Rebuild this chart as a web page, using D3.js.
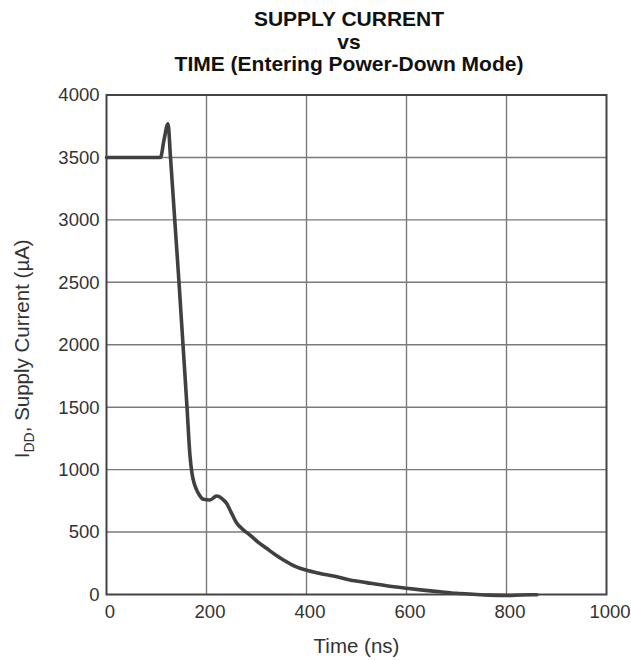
<!DOCTYPE html>
<html><head><meta charset="utf-8">
<script src="https://cdn.jsdelivr.net/npm/d3@7/dist/d3.min.js"></script>
<style>body{margin:0;background:#fff}</style>
</head><body>
<script>
const timeNs = [0, 60, 108, 115, 123, 128, 136.5, 145, 153, 161, 167, 171, 175, 180, 186, 194, 207, 220, 234, 240, 247, 260, 273, 287, 303, 320, 337, 354, 370, 387, 404, 420, 437, 454, 487, 520, 560, 600, 633, 667, 700, 733, 766, 800, 830, 861];
const currentUA = [3500, 3500, 3500, 3640, 3770, 3500, 3000, 2500, 2000, 1500, 1110, 970, 895, 840, 795, 762, 757, 789, 757, 730, 677, 575, 520, 476, 420, 370, 320, 276, 240, 210, 190, 175, 160, 148, 116, 95, 70, 50, 35, 22, 10, 2, -5, -8, -4, -2];
const xTicks = [0, 200, 400, 600, 800, 1000];
const yTicks = [0, 500, 1000, 1500, 2000, 2500, 3000, 3500, 4000];
const titleLines = ["SUPPLY CURRENT", "vs", "TIME (Entering Power-Down Mode)"];

const W = 631, H = 660;
const m = {l: 106.5, r: 606.5, t: 95, b: 594.5};
const svg = d3.select("body").append("svg").attr("width", W).attr("height", H);
const x = d3.scaleLinear().domain([0, 1000]).range([m.l, m.r]);
const y = d3.scaleLinear().domain([0, 4000]).range([m.b, m.t]);
const font = "'Liberation Sans', Arial, Helvetica, sans-serif";

// grid
svg.append("g").selectAll("line").data(xTicks.slice(1, -1)).join("line")
  .attr("x1", d => x(d)).attr("x2", d => x(d)).attr("y1", m.t).attr("y2", m.b)
  .attr("stroke", "#7a7a7a").attr("stroke-width", 1.4);
svg.append("g").selectAll("line").data(yTicks.slice(1, -1)).join("line")
  .attr("x1", m.l).attr("x2", m.r).attr("y1", d => y(d)).attr("y2", d => y(d))
  .attr("stroke", "#7a7a7a").attr("stroke-width", 1.4);

// axes (labels only)
const xAxis = svg.append("g").attr("transform", `translate(3,${m.b})`)
  .call(d3.axisBottom(x).tickValues(xTicks).tickSize(0).tickPadding(10).tickFormat(d3.format("d")));
const yAxis = svg.append("g").attr("transform", `translate(${m.l},0)`)
  .call(d3.axisLeft(y).tickValues(yTicks).tickSize(0).tickPadding(7).tickFormat(d3.format("d")));
[xAxis, yAxis].forEach(a => {
  a.select(".domain").remove();
  a.selectAll("text").attr("font-family", font).attr("font-size", 18.5).attr("fill", "#333");
});

// curve
const line = d3.line().x((d, i) => x(timeNs[i])).y(d => y(d)).curve(d3.curveMonotoneX);
svg.append("path").datum(currentUA).attr("d", line)
  .attr("fill", "none").attr("stroke", "#404040").attr("stroke-width", 3.6)
  .attr("stroke-linejoin", "round").attr("stroke-linecap", "round");

// frame
svg.append("rect").attr("x", m.l).attr("y", m.t).attr("width", m.r - m.l).attr("height", m.b - m.t)
  .attr("fill", "none").attr("stroke", "#444").attr("stroke-width", 2);

// title
svg.append("g").selectAll("text").data(titleLines).join("text")
  .attr("x", 349).attr("y", (d, i) => 26 + i * 22.5)
  .attr("text-anchor", "middle").attr("font-family", font).attr("font-weight", "bold")
  .attr("font-size", 21).attr("fill", "#111").text(d => d);

// x title
svg.append("text").attr("x", (m.l + m.r) / 2).attr("y", 653).attr("text-anchor", "middle")
  .attr("font-family", font).attr("font-size", 20.5).attr("fill", "#333").text("Time (ns)");

// y title
const yt = svg.append("text").attr("transform", `translate(29,${(m.t + m.b) / 2 + 4}) rotate(-90)`)
  .attr("text-anchor", "middle").attr("font-family", font).attr("font-size", 20.5).attr("fill", "#333");
yt.append("tspan").text("I");
yt.append("tspan").attr("font-size", 14).attr("dy", 5).text("DD");
yt.append("tspan").attr("dy", -5).text(", Supply Current (µA)");
</script>
</body></html>
